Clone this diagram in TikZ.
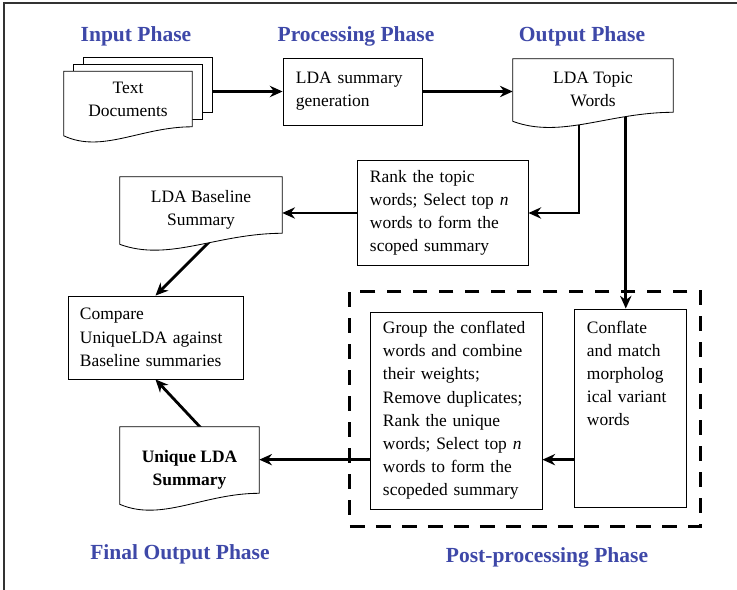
\documentclass[tikz,border=0pt]{standalone}
\usepackage{fontspec}
\setmainfont{Liberation Serif}
\usetikzlibrary{arrows.meta,calc,fit}

\definecolor{azulfase}{RGB}{62,72,168}

\pgfdeclarelayer{fondo}
\pgfsetlayers{fondo,main}

\tikzset{
  texto/.style={font=\fontsize{12.4}{16.5}\selectfont, inner sep=0pt},
  caja/.style={texto, draw, line width=0.6pt, align=left,
    inner xsep=0.325cm, inner ysep=4pt},
  hoja/.style={texto, align=center},
  titulo/.style={font=\fontsize{15.3}{18}\selectfont\bfseries, text=azulfase},
  linea/.style={line width=0.6pt},
  flujo/.style={line width=2pt, -{Stealth[length=9pt,width=8pt]}},
  fase/.style={draw, line width=2pt, dash pattern=on 10.5pt off 8pt},
}

% contorno de documento con borde ondulado abajo
% #1 = extra arriba, #2 = nodo, #3 = caida del lado izquierdo
\newcommand{\hojadoc}[3][0]{%
  \draw[linea, fill=white] ($(#2.north west)+(0,-#1)$) -- ($(#2.north east)+(0,-#1)$)
    -- (#2.south east)
    .. controls ($(#2.south east)!0.4!(#2.south west)$)
       and ($(#2.south west)!0.3!(#2.south east)+(0,#3+18)$)
    .. ($(#2.south west)+(0,#3)$) -- cycle;}

\begin{document}
\begin{tikzpicture}[x=0.025cm, y=-0.025cm]
    \useasboundingbox (0,0) rectangle (737,590);

    % -----------------------------------------------------
    % 1) Marco y titulos de cada fase
    % -----------------------------------------------------
    \draw[line width=1.4pt, black!80] (4,590) -- (4,3) -- (737,3);
    \node[titulo] (tin)    at (136,36)  {Input Phase};
    \node[titulo] (tproc)  at (356,36)  {Processing Phase};
    \node[titulo] (tout)   at (582,36)  {Output Phase};
    \node[titulo] (tfinal) at (180,554) {Final Output Phase};
    \node[titulo] (tpost)  at (547,557) {Post-processing Phase};

    % -----------------------------------------------------
    % 2) Fila de arriba: documentos -> resumen -> palabras
    % -----------------------------------------------------
    \node[hoja, minimum width=3.2cm, minimum height=1.375cm] (tdoc) at (128,99)
        {Text\\Documents};
    \node[caja, minimum width=3.475cm, minimum height=1.675cm, text width=2.825cm]
        (gen) at (352.5,91.5) {LDA summary\\generation};
    \node[hoja, minimum width=4cm, minimum height=1.125cm] (topic) at (593,89.5)
        {LDA Topic\\Words};

    % -----------------------------------------------------
    % 3) Resumen base y comparacion
    % -----------------------------------------------------
    \node[caja, minimum width=4.275cm, minimum height=2.625cm, text width=3.625cm]
        (rank) at (442.5,213)
        {Rank the topic\\words; Select top \textit{n}\\words to form the\\scoped summary};
    \node[hoja, minimum width=4.05cm, minimum height=1.15cm] (base) at (201,210)
        {LDA Baseline\\Summary};
    \node[caja, minimum width=4.375cm, minimum height=2.075cm, text width=3.775cm,
        inner xsep=0.3cm] (compare) at (155.5,337.5)
        {Compare\\UniqueLDA against\\Baseline summaries};
    \node[hoja, minimum width=3.475cm, minimum height=1.175cm, font=\fontsize{12.4}{16.5}\selectfont\bfseries]
        (uniq) at (189.5,469.5) {Unique LDA\\Summary};

    % -----------------------------------------------------
    % 4) Post-procesado (recuadro punteado)
    % -----------------------------------------------------
    \node[caja, minimum width=4.3cm, minimum height=4.925cm, text width=3.65cm]
        (group) at (456,410.5)
        {Group the conflated\\words and combine\\their weights;\\Remove duplicates;\\%
         Rank the unique\\words; Select top \textit{n}\\words to form the\\scopeded summary};
    \node[caja, minimum width=2.8cm, minimum height=4.95cm, text width=2.15cm,
        text depth=4.05cm] (conf) at (630,408)
        {Conflate\\and match\\morpholog\\ical variant\\words};
    \node[fase, fit=(group)(conf), inner sep=12pt, xshift=-2pt] (post) {};

    % -----------------------------------------------------
    % 5) Flechas (detras de las hojas)
    % -----------------------------------------------------
    \coordinate (pila) at ($(tdoc.east)+(20,0)$);
    \coordinate (uin) at ([yshift=7pt]uniq.east);
    \begin{pgfonlayer}{fondo}
        \draw[flujo] (pila |- gen.west) -- (gen.west);
        \draw[flujo] (gen.east) -- (gen.east -| topic.west);
        \draw[flujo] ([xshift=-10pt]topic.south) |- (rank.east);
        \draw[flujo] ([xshift=-3pt]topic.south -| conf.north) -- ([xshift=-3pt]conf.north);
        \draw[flujo] (rank.west) -- (rank.west -| base.east);
        \draw[flujo] ([xshift=12pt]base.south) -- (compare.north);
        \draw[flujo] ([xshift=20pt]uniq.north) -- (compare.south);
        \draw[flujo] (conf.west |- uin) -- (group.east |- uin);
        \draw[flujo] (group.west |- uin) -- (uin);

        % hojas apiladas y contornos de documento
        \draw[linea, fill=white] ($(tdoc.north west)+(20,-14)$) rectangle ($(tdoc.south east)+(20,-14)$);
        \draw[linea, fill=white] ($(tdoc.north west)+(10,-7)$) rectangle ($(tdoc.south east)+(10,-7)$);
        \hojadoc{tdoc}{9}
        \hojadoc[8]{topic}{9}
        \hojadoc[10]{base}{11}
        \hojadoc[19]{uniq}{11}
    \end{pgfonlayer}
\end{tikzpicture}
\end{document}
